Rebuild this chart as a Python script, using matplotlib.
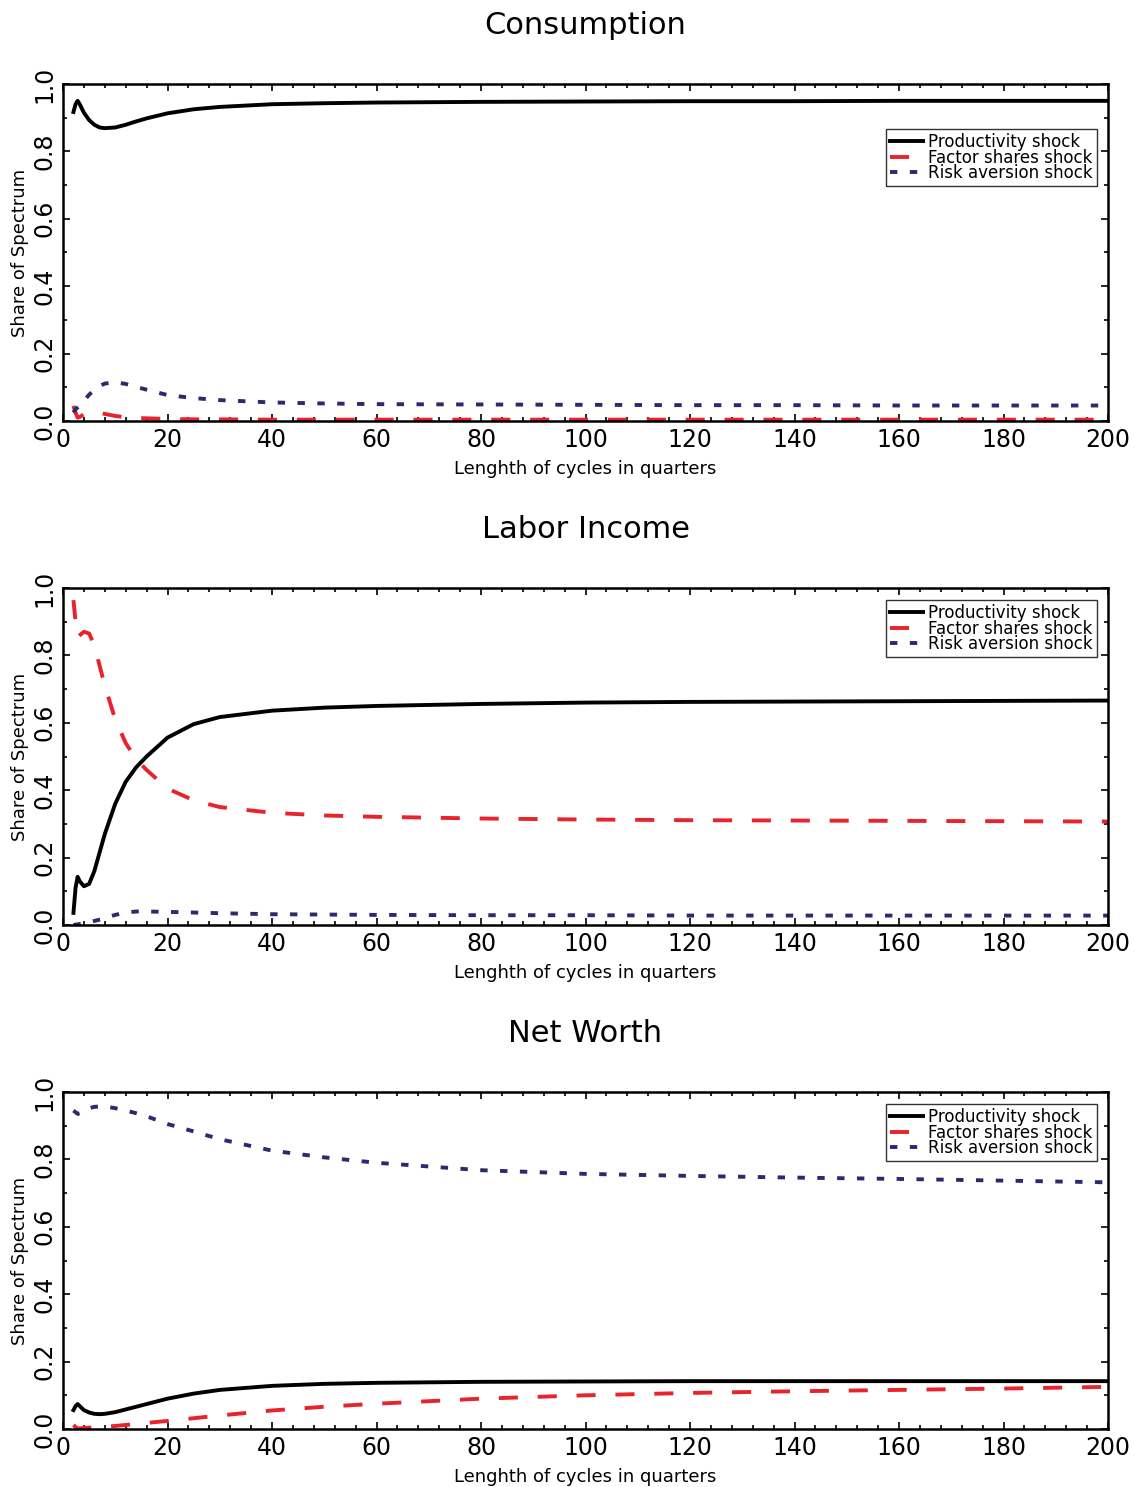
import numpy as np
import matplotlib
matplotlib.use('Agg')
import matplotlib.pyplot as plt
from matplotlib.ticker import MultipleLocator

# cycle length in quarters
cycles = [2, 2.4, 2.8, 3.2, 4, 5, 6, 7, 8, 10, 12, 14, 16, 20, 25, 30,
          40, 50, 60, 80, 100, 120, 140, 160, 180, 200]

# Consumption
cons_prod = [0.917, 0.94, 0.95, 0.94, 0.915, 0.893, 0.879, 0.871, 0.869, 0.871, 0.879, 0.889, 0.898,
             0.913, 0.925, 0.932, 0.94, 0.943, 0.945, 0.947, 0.948, 0.949, 0.949, 0.95, 0.95, 0.95]
cons_fact = [0.045, 0.025, 0.01, 0.012, 0.02, 0.025, 0.026, 0.024, 0.021, 0.015, 0.011, 0.009, 0.008,
             0.006, 0.005, 0.005, 0.004, 0.004, 0.004, 0.004, 0.004, 0.004, 0.004, 0.004, 0.004, 0.004]
cons_risk = [0.025, 0.035, 0.04, 0.045, 0.06, 0.078, 0.093, 0.104, 0.111, 0.115, 0.11, 0.101, 0.093,
             0.077, 0.068, 0.062, 0.055, 0.052, 0.05, 0.049, 0.048, 0.047, 0.047, 0.046, 0.046, 0.046]

# Labor income
lab_prod = [0.036, 0.11, 0.143, 0.13, 0.115, 0.122, 0.16, 0.215, 0.27, 0.36, 0.425, 0.468, 0.50,
            0.556, 0.596, 0.617, 0.636, 0.645, 0.65, 0.656, 0.66, 0.662, 0.663, 0.664, 0.665, 0.666]
lab_fact = [0.964, 0.9, 0.855, 0.86, 0.87, 0.865, 0.83, 0.77, 0.71, 0.61, 0.54, 0.492, 0.46,
            0.405, 0.37, 0.35, 0.333, 0.325, 0.321, 0.316, 0.313, 0.311, 0.31, 0.309, 0.308, 0.307]
lab_risk = [0.0, 0.001, 0.002, 0.003, 0.005, 0.008, 0.012, 0.016, 0.02, 0.03, 0.037, 0.04, 0.04,
            0.039, 0.037, 0.035, 0.032, 0.031, 0.03, 0.029, 0.029, 0.028, 0.028, 0.028, 0.028, 0.028]

# Net worth
nw_prod = [0.056, 0.068, 0.074, 0.068, 0.056, 0.049, 0.045, 0.044, 0.045, 0.05, 0.058, 0.066, 0.074,
           0.09, 0.105, 0.116, 0.128, 0.134, 0.137, 0.14, 0.141, 0.142, 0.142, 0.142, 0.142, 0.142]
nw_fact = [0.012, 0.006, 0.002, 0.002, 0.003, 0.004, 0.005, 0.006, 0.007, 0.009, 0.012, 0.015, 0.018,
           0.024, 0.032, 0.04, 0.055, 0.066, 0.075, 0.09, 0.1, 0.107, 0.112, 0.116, 0.12, 0.125]
nw_risk = [0.945, 0.94, 0.935, 0.937, 0.945, 0.952, 0.956, 0.957, 0.957, 0.952, 0.945, 0.937, 0.928,
           0.905, 0.883, 0.86, 0.826, 0.806, 0.79, 0.768, 0.757, 0.751, 0.746, 0.742, 0.737, 0.732]

titles = ['Consumption', 'Labor Income', 'Net Worth']
series = [(cons_prod, cons_fact, cons_risk),
          (lab_prod, lab_fact, lab_risk),
          (nw_prod, nw_fact, nw_risk)]
labels = ['Productivity shock', 'Factor shares shock', 'Risk aversion shock']
legend_top = [0.866, 0.964, 0.964]

red = '#e8232b'
navy = '#2a2a72'

W, H = 1138, 1487
fig = plt.figure(figsize=(W / 100, H / 100), dpi=100)

tops = [84, 588, 1092]
for i in range(3):
    top = tops[i]
    ax = fig.add_axes([63 / W, 1 - (top + 337) / H, 1045 / W, 337 / H])
    p, f, r = series[i]
    ax.plot(cycles, p, color='black', lw=2.8, label=labels[0])
    ax.plot(cycles, f, color=red, lw=2.8, dashes=(4.9, 5.1), label=labels[1])
    ax.plot(cycles, r, color=navy, lw=2.8, dashes=(1.9, 3.2), label=labels[2])

    ax.set_xlim(0, 200)
    ax.set_ylim(0, 1)
    ax.xaxis.set_major_locator(MultipleLocator(20))
    ax.xaxis.set_minor_locator(MultipleLocator(4))
    ax.yaxis.set_minor_locator(MultipleLocator(0.1))
    ax.set_yticks(np.arange(0, 1.01, 0.2))
    ax.set_yticklabels(['%.1f' % v for v in np.arange(0, 1.01, 0.2)], rotation=90, va='center')
    ax.tick_params(which='both', direction='in', top=True, right=True, width=1.2)
    ax.tick_params(which='major', length=5, labelsize=17, pad=5)
    ax.tick_params(which='minor', length=3)
    for s in ax.spines.values():
        s.set_linewidth(1.8)

    ax.set_xlabel('Lenghth of cycles in quarters', fontsize=13, labelpad=6)
    ax.set_ylabel('Share of Spectrum', fontsize=13)
    ax.yaxis.set_label_coords(-34 / 1045, 0.5)
    ax.text(0.5, 1 + 58 / 337, titles[i], transform=ax.transAxes,
            ha='center', va='center', fontsize=22)

    leg = ax.legend(loc='upper right', bbox_to_anchor=(0.9895, legend_top[i]),
                    fontsize=12, frameon=True, fancybox=False, borderaxespad=0,
                    handlelength=2.0, handletextpad=0.3, labelspacing=-0.15,
                    borderpad=0.25)
    leg.get_frame().set_edgecolor('black')
    leg.get_frame().set_linewidth(1.0)

fig.savefig('out.png', dpi=100)
